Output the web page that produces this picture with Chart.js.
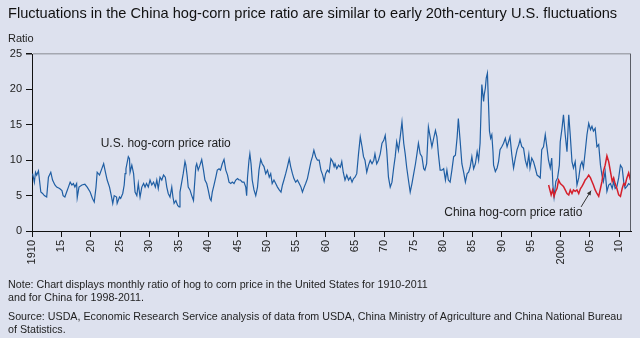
<!DOCTYPE html>
<html>
<head>
<meta charset="utf-8">
<script src="https://cdn.jsdelivr.net/npm/chart.js@4.4.1/dist/chart.umd.min.js"></script>
<style>
  body { margin: 0; background: #dde1ee; }
  #wrap { position: relative; width: 640px; height: 338px; background: #dde1ee;
          font-family: "Liberation Sans", Arial, sans-serif; color: #1e1e1e; }
  #title { position: absolute; left: 8px; top: 5px; font-size: 14.6px; line-height: 17px; white-space: nowrap; color: #111; }
  #unit { position: absolute; left: 8px; top: 32px; font-size: 11px; line-height: 13px; }
  .note { position: absolute; left: 8px; font-size: 10.7px; line-height: 12.5px; white-space: nowrap; }
  canvas { position: absolute; left: 0; top: 0; }
</style>
</head>
<body>
<div id="wrap">
  <canvas id="myChart" width="640" height="338"></canvas>
  <div id="title">Fluctuations in the China hog-corn price ratio are similar to early 20th-century U.S. fluctuations</div>
  <div id="unit">Ratio</div>
  <div class="note" style="top:278px">Note: Chart displays monthly ratio of hog to corn price in the United States for 1910-2011<br>and for China for 1998-2011.</div>
  <div class="note" style="top:310px">Source: USDA, Economic Research Service analysis of data from USDA, China Ministry of Agriculture and China National Bureau<br>of Statistics.</div>
</div>
<script>
// x axis ticks
const tickYears  = [1910,1915,1920,1925,1930,1935,1940,1945,1950,1955,1960,1965,1970,1975,1980,1985,1990,1995,2000,2005,2010];
const tickLabels = ['1910','15','20','25','30','35','40','45','50','55','60','65','70','75','80','85','90','95','2000','05','10'];

// U.S. hog-corn price ratio
const usYears = [
  1910.1,1910.4,1910.6,1910.8,1911.1,1911.5,1911.8,1912.1,1912.5,1912.8,1913.2,1913.5,1913.9,1914.2,1914.7,
  1915.1,1915.3,1915.6,1915.9,1916.2,1916.5,1916.8,1917.05,1917.3,1917.6,1917.7,1918.0,1918.5,1919.0,1919.4,
  1919.9,1920.3,1920.6,1920.9,1921.1,1921.5,1921.8,1922.2,1922.5,1922.8,1923.2,1923.5,1923.75,1924.0,1924.4,
  1924.5,1924.9,1925.1,1925.45,1925.7,1925.85,1926.0,1926.4,1926.6,1926.7,
  1927.0,1927.3,1927.55,1927.85,1928.1,1928.4,1928.7,1929.0,1929.25,1929.5,1929.8,1930.1,1930.4,1930.7,1931.0,
  1931.25,1931.5,1931.8,1932.1,1932.4,1932.7,1932.95,1933.2,1933.5,1933.8,1934.0,1934.2,1934.5,1934.8,1935.05,
  1935.2,1935.75,1936.05,1936.2,1936.45,1936.6,1936.9,1937.2,1937.5,1937.65,1937.9,1938.05,1938.3,1938.6,1938.9,
  1939.2,1939.45,1939.75,1940.0,1940.3,1940.5,1940.7,1941.0,1941.3,1941.55,1941.85,1942.1,1942.4,1942.7,1943.0,
  1943.3,1943.55,1943.85,1944.1,1944.4,1944.7,1945.0,1945.25,1945.5,1945.8,1946.1,1946.4,1946.55,1946.7,1946.95,
  1947.1,1947.3,1947.5,1947.8,1948.1,1948.4,1948.65,1948.95,1949.2,1949.5,1949.8,1950.1,1950.4,1950.65,1950.9,
  1951.2,1951.5,1951.8,1952.1,1952.4,1952.65,1952.9,1953.2,1953.5,1953.8,1954.05,1954.35,1954.6,1954.9,1955.2,
  1955.5,1955.8,1956.05,1956.35,1956.6,1956.9,1957.2,1957.5,1957.75,1958.0,1958.3,1958.6,1958.9,1959.2,1959.5,
  1959.75,1960.0,1960.3,1960.6,1960.9,1961.2,1961.45,
  1961.6,1961.9,1962.2,1962.5,1962.75,1963.0,1963.3,1963.6,1963.9,1964.2,1964.5,1964.75,1965.0,1965.3,1965.6,
  1965.9,1966.2,1966.45,1966.7,1967.0,1967.3,1967.6,1967.9,1968.2,1968.4,1968.7,1969.0,1969.3,1969.6,1969.9,
  1970.15,1970.4,1970.7,1971.0,1971.3,1971.6,1971.85,1972.1,1972.4,1972.7,1973.0,1973.3,1973.55,1973.8,1974.1,
  1974.4,1974.7,1975.0,1975.3,1975.55,1975.8,1976.1,1976.4,1976.7,1976.9,1977.2,1977.5,1977.8,1978.1,1978.4,
  1978.7,1978.95,1979.2,1979.5,1979.8,1980.1,1980.4,1980.65,1980.9,1981.2,1981.5,1981.8,1982.1,1982.4,1982.6,
  1982.9,1983.2,1983.5,1983.8,1984.1,1984.35,1984.6,1984.9,1985.2,1985.5,1985.8,1986.05,1986.3,
  1986.6,1986.9,1987.0,1987.2,1987.35,1987.55,1987.7,1987.9,1988.1,1988.3,1988.5,1988.6,1988.9,1989.2,1989.45,
  1989.7,1990.0,1990.3,1990.6,1990.9,1991.15,1991.4,1991.7,1992.0,1992.3,1992.6,1992.9,1993.1,1993.4,1993.7,
  1994.0,1994.3,1994.6,1994.8,1995.1,1995.4,1995.7,1996.0,1996.3,1996.55,1996.8,1997.1,1997.4,1997.7,1997.95,
  1998.25,1998.5,1998.7,1998.9,1999.2,1999.5,1999.8,1999.95,2000.25,2000.5,2000.8,2001.1,2001.4,2001.65,2001.95,
  2002.2,2002.5,2002.8,2003.1,2003.4,2003.65,2003.9,2004.2,2004.5,2004.8,2005.1,2005.35,2005.6,2005.9,2006.2,
  2006.5,2006.8,2007.05,2007.3,2007.6,2007.9,2008.2,2008.5,2008.8,2009.05,2009.3,2009.6,2009.9,2010.2,2010.5,
  2010.75,2011.0,2011.3,2011.6,2011.9
];
const usRatio = [
  8.1,6.9,8.3,7.9,8.5,5.5,5.3,5.0,4.8,7.6,8.3,7.2,6.5,6.2,6.0,
  5.7,5.0,4.8,5.5,6.2,6.9,6.5,6.7,6.2,6.7,4.7,6.2,6.5,6.6,6.2,
  5.5,4.6,4.1,6.2,8.3,7.9,8.6,9.5,8.3,7.2,6.2,5.0,3.9,5.0,4.8,
  3.9,4.8,4.6,5.3,6.5,8.1,8.8,10.5,10.2,8.3,
  9.3,8.1,5.5,5.0,6.7,4.8,6.2,6.7,6.2,6.7,6.2,7.2,6.5,6.9,6.2,
  7.2,6.0,7.6,7.2,7.9,7.6,6.2,5.3,4.8,6.2,4.8,3.9,4.3,3.6,3.4,
  5.5,8.1,9.8,9.3,7.6,6.2,5.8,5.0,4.3,6.2,9.1,9.5,8.6,9.3,10.1,
  8.6,7.2,6.7,5.8,4.6,4.3,5.5,6.5,7.6,8.6,8.8,8.6,9.5,10.1,8.6,
  7.9,6.9,6.7,6.9,6.7,7.2,7.4,7.2,7.2,6.9,6.9,6.2,5.0,7.6,10.0,
  10.9,9.5,7.2,5.8,5.0,6.2,8.6,10.1,9.5,9.1,8.1,8.6,7.6,8.1,6.7,
  7.2,6.7,6.2,5.8,5.5,6.5,7.2,8.1,9.1,10.2,9.1,8.1,7.4,6.9,7.2,
  6.7,6.2,5.5,6.2,6.7,7.4,8.6,9.8,10.5,11.4,10.5,10.0,10.0,8.6,7.9,
  7.0,8.1,8.6,8.3,10.2,9.8,9.1,
  9.5,8.8,9.3,9.0,9.8,8.3,7.2,7.9,7.2,7.6,6.9,7.4,7.6,8.1,10.9,
  13.3,11.9,10.5,10.0,8.3,9.3,10.0,9.5,10.0,10.9,9.5,10.0,10.9,12.4,12.8,
  13.5,11.4,7.6,6.2,6.9,9.0,10.5,12.6,11.4,13.3,15.4,12.4,10.9,9.0,7.2,
  5.5,6.7,8.1,9.5,10.9,12.4,10.9,10.5,8.8,8.6,9.5,14.7,13.3,11.9,13.1,
  14.2,13.3,10.9,8.6,8.6,8.8,7.2,8.6,7.2,6.9,8.6,10.5,10.7,13.3,15.9,
  12.8,9.5,8.3,6.9,8.1,8.3,9.0,10.5,8.8,9.5,11.2,10.0,12.4,
  20.7,18.3,19.2,20.2,21.6,22.3,18.8,14.1,13.1,13.6,11.2,9.3,8.4,8.9,9.8,
  11.5,11.9,12.4,13.1,11.9,12.6,13.3,10.8,8.9,10.3,11.5,12.2,12.9,11.9,11.7,
  10.0,9.1,10.8,8.9,10.3,9.8,8.9,7.9,7.7,7.5,11.5,11.9,13.6,11.7,10.0,
  8.9,10.3,6.5,4.8,7.0,7.5,9.3,12.6,14.5,16.4,13.6,11.2,16.4,13.6,9.8,
  8.9,9.8,6.5,7.5,9.3,9.8,8.9,11.2,13.6,15.2,14.3,14.8,14.1,14.5,11.9,
  12.2,9.3,7.9,7.0,8.4,5.6,6.5,6.7,6.0,7.0,6.0,6.3,7.5,9.3,8.9,
  7.0,6.0,6.3,6.7,6.5
];

// China hog-corn price ratio
const chinaYears = [
  1997.97,1998.25,1998.4,1998.65,1998.9,1999.16,1999.4,1999.67,1999.96,2000.24,2000.5,2000.8,2001.1,2001.4,2001.66,
  2001.95,2002.2,2002.5,2002.8,2003.1,2003.4,2003.65,2003.9,2004.2,2004.5,2004.8,2005.1,2005.35,2005.6,2005.9,
  2006.2,2006.5,2006.8,2007.06,2007.3,2007.6,2007.9,2008.2,2008.5,2008.8,2009.05,2009.3,2009.6,2009.9,2010.2,
  2010.5,2010.75,2011.0,2011.3,2011.6,2011.9
];
const chinaRatio = [
  6.5,5.6,5.1,5.8,4.9,5.6,6.0,7.2,6.7,6.5,6.3,5.8,5.3,5.1,5.8,
  5.3,5.8,5.6,5.8,5.3,6.0,6.3,6.7,7.2,7.5,7.9,7.5,7.0,6.5,5.8,
  5.3,4.9,6.0,7.0,8.4,9.3,10.6,9.8,8.4,7.0,7.5,6.7,6.0,5.1,4.9,
  6.0,6.7,6.5,7.5,8.2,7.2
];

const usLabel = 'U.S. hog-corn price ratio';
const cnLabel = 'China hog-corn price ratio';
const FONT = '"Liberation Sans", Arial, sans-serif';

const overlay = {
  id: 'overlay',
  afterDatasetsDraw(chart) {
    const { ctx, chartArea: a, scales: { x, y } } = chart;
    ctx.save();
    // right frame line
    ctx.strokeStyle = '#5a5d66';
    ctx.lineWidth = 1;
    ctx.beginPath();
    ctx.moveTo(a.right - 0.5, a.top);
    ctx.lineTo(a.right - 0.5, a.bottom);
    ctx.stroke();
    // series labels
    ctx.font = '12px ' + FONT;
    ctx.fillStyle = '#1e1e1e';
    ctx.textBaseline = 'middle';
    ctx.fillText(usLabel, x.getPixelForValue(1921.7), y.getPixelForValue(12.3));
    ctx.fillText(cnLabel, x.getPixelForValue(1980.2), y.getPixelForValue(2.6));
    // arrow to the china line
    const x0 = x.getPixelForValue(2003.5), y0 = y.getPixelForValue(3.4);
    const x1 = x.getPixelForValue(2005.2), y1 = y.getPixelForValue(5.7);
    const ang = Math.atan2(y1 - y0, x1 - x0);
    ctx.strokeStyle = '#333';
    ctx.beginPath(); ctx.moveTo(x0, y0); ctx.lineTo(x1, y1); ctx.stroke();
    ctx.fillStyle = '#333';
    ctx.beginPath();
    ctx.moveTo(x1, y1);
    ctx.lineTo(x1 - 5 * Math.cos(ang - 0.45), y1 - 5 * Math.sin(ang - 0.45));
    ctx.lineTo(x1 - 5 * Math.cos(ang + 0.45), y1 - 5 * Math.sin(ang + 0.45));
    ctx.closePath();
    ctx.fill();
    ctx.restore();
  }
};

const ctx = document.getElementById('myChart');
new Chart(ctx, {
  type: 'line',
  data: {
    datasets: [
      { label: cnLabel, data: chinaYears.map((t, i) => ({ x: t, y: chinaRatio[i] })),
        borderColor: '#d41f2b', borderWidth: 1.5, pointRadius: 0, tension: 0, order: 0 },
      { label: usLabel, data: usYears.map((t, i) => ({ x: t, y: usRatio[i] })),
        borderColor: '#1f5ea3', borderWidth: 1.2, pointRadius: 0, tension: 0, order: 1 }
    ]
  },
  options: {
    responsive: false,
    animation: false,
    events: [],
    layout: { padding: { top: 54, right: 9, bottom: 57, left: 0 } },
    plugins: { legend: { display: false }, tooltip: { enabled: false } },
    scales: {
      x: {
        type: 'linear', min: 1910, max: 2012,
        afterBuildTicks: s => { s.ticks = tickYears.map(v => ({ value: v })); },
        afterFit: s => { s.height = 50; },
        border: { color: '#111', width: 1 },
        grid: { drawOnChartArea: false, drawTicks: true, tickLength: 6, tickColor: '#111' },
        ticks: {
          autoSkip: false, minRotation: 90, maxRotation: 90, padding: 3,
          color: '#222', font: { family: FONT, size: 11 },
          callback: (v, i) => tickLabels[i]
        }
      },
      y: {
        min: 0, max: 25,
        afterFit: s => { s.width = 32; },
        border: { color: '#111', width: 1 },
        grid: {
          drawTicks: true, tickLength: 6, tickColor: '#111',
          color: c => c.tick && c.tick.value === 25 ? '#a4a7b0' : 'rgba(0,0,0,0)',
          lineWidth: c => c.tick && c.tick.value === 25 ? 1.5 : 1
        },
        ticks: { stepSize: 5, padding: 4, color: '#222', font: { family: FONT, size: 11 } }
      }
    }
  },
  plugins: [overlay]
});
</script>
</body>
</html>
